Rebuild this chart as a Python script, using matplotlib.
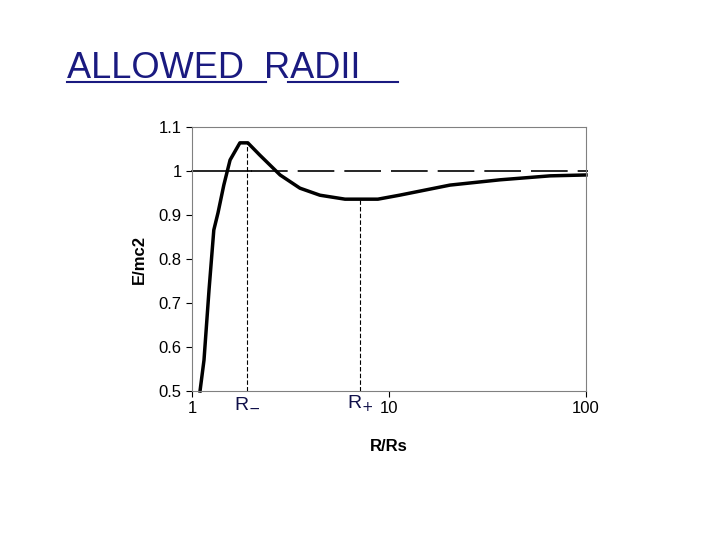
import matplotlib
matplotlib.use("Agg")
import matplotlib.pyplot as plt
from matplotlib.ticker import FixedLocator, NullLocator

r = [1.098, 1.15, 1.22, 1.29, 1.355, 1.45, 1.56, 1.75, 1.92, 2.21, 2.80, 3.53, 4.46, 5.98, 8.78, 11.3, 20.4, 36.6, 65.7, 100]
e = [0.5, 0.57, 0.73, 0.866, 0.905, 0.968, 1.025, 1.064, 1.064, 1.036, 0.991, 0.961, 0.945, 0.936, 0.936, 0.945, 0.968, 0.98, 0.989, 0.991]
r_minus, e_minus = 1.9, 1.064
r_plus, e_plus = 7.1, 0.936

fig = plt.figure(figsize=(7.2, 5.4), dpi=100)
ax = fig.add_axes([0.2667, 0.2759, 0.5472, 0.4889])
ax.set_xscale("log")
ax.set_xlim(1, 100)
ax.set_ylim(0.5, 1.1)
ax.plot(r, e, color="black", lw=2.5, clip_on=False)
ax.plot([1, 2.0], [1, 1], color="black", lw=1.2, clip_on=False)
ax.plot([2.0, 102], [1, 1], color="black", lw=1.2, dashes=(22, 6), clip_on=False)
ax.plot([r_minus, r_minus], [0.5, e_minus], color="black", lw=0.8, ls=(0, (4, 2)))
ax.plot([r_plus, r_plus], [0.5, e_plus], color="black", lw=0.8, ls=(0, (4, 2)))
ax.xaxis.set_major_locator(FixedLocator([1, 10, 100]))
ax.xaxis.set_minor_locator(NullLocator())
ax.set_xticklabels(["1", "10", "100"])
ax.set_yticks([0.5, 0.6, 0.7, 0.8, 0.9, 1.0, 1.1])
ax.set_yticklabels(["0.5", "0.6", "0.7", "0.8", "0.9", "1", "1.1"])
ax.tick_params(labelsize=12, length=4, direction="out")
for lbl in ax.get_xticklabels() + ax.get_yticklabels():
    lbl.set_family("Liberation Sans")
for s in ax.spines.values():
    s.set_color("#808080")
ax.set_xlabel("R/Rs", fontsize=12, fontweight="bold", family="Liberation Sans", labelpad=16)
ax.set_ylabel("E/mc2", fontsize=12, fontweight="bold", family="Liberation Sans", labelpad=8)
ax.text(r_minus, 0.493, r"R$_{\mathsf{-}}$", color="#10104a", fontsize=14, ha="center", va="top", family="Liberation Sans")
ax.text(r_plus, 0.493, r"R$_{\mathsf{+}}$", color="#10104a", fontsize=14, ha="center", va="top", family="Liberation Sans")
fig.text(0.093, 0.855, "ALLOWED  RADII", fontsize=26, color="#1a1a80", family="Liberation Sans", fontstretch="condensed")
fig.add_artist(plt.Line2D([0.093, 0.37], [0.848, 0.848], color="#1a1a80", lw=1.5))
fig.add_artist(plt.Line2D([0.40, 0.553], [0.848, 0.848], color="#1a1a80", lw=1.5))
fig.savefig("out.png", dpi=100)
